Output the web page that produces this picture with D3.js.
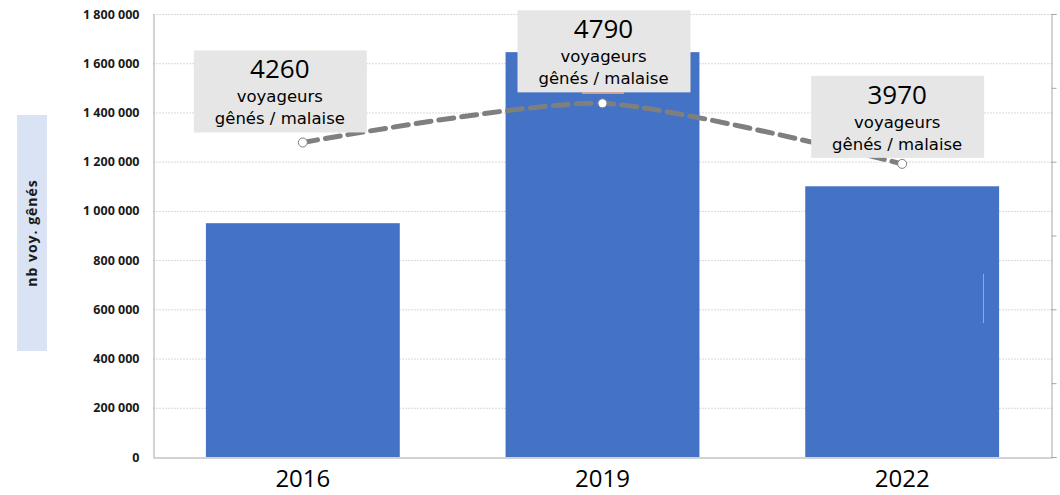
<!DOCTYPE html>
<html>
<head>
<meta charset="utf-8">
<script src="https://cdn.jsdelivr.net/npm/d3@7"></script>
<style>
body { margin:0; background:#fff; }
svg { display:block; }
</style>
</head>
<body>
<svg id="graph"></svg>
<script>
// data
var years = ["2016", "2019", "2022"]
var voyGenes = [950000, 1645000, 1100000]
var malaise = [4260, 4790, 3970]
var yTicks = [0, 200000, 400000, 600000, 800000, 1000000, 1200000, 1400000, 1600000, 1800000]
var y2Ticks = [0, 1000, 2000, 3000, 4000, 5000, 6000]
var labelLines = ["voyageurs", "gênés / malaise"]

var screen = {width:1060, height:495}
var margin = {left:153, right:8, top:14, bottom:38}

var svg = d3.select("#graph")
    .attr("width", screen.width)
    .attr("height", screen.height)

var fr = d3.formatLocale({decimal:",", thousands:" ", grouping:[3], currency:["","€"]})
var fmt = fr.format(",")

var xscale = d3.scaleBand()
    .domain(years)
    .range([margin.left, screen.width - margin.right])
    .paddingInner(0.353)
    .paddingOuter(0.1765)

var yscale = d3.scaleLinear()
    .domain([0, 1800000])
    .range([screen.height - margin.bottom, margin.top])

var y2scale = d3.scaleLinear()
    .domain([0, 6000])
    .range([screen.height - margin.bottom, margin.top])

var x0 = margin.left, x1 = screen.width - margin.right
var yBase = yscale(0)

// gridlines
svg.append("g")
    .selectAll("line")
    .data(yTicks.slice(1))
    .enter()
    .append("line")
    .attr("x1", x0).attr("x2", x1)
    .attr("y1", function(d){ return yscale(d) + 0.5 })
    .attr("y2", function(d){ return yscale(d) + 0.5 })
    .attr("stroke", "#d9d9d9")
    .attr("stroke-dasharray", "2,1")

// bars
svg.append("g")
    .selectAll("rect")
    .data(years)
    .enter()
    .append("rect")
    .attr("x", function(d){ return xscale(d) })
    .attr("width", xscale.bandwidth())
    .attr("y", function(d, i){ return yscale(voyGenes[i]) })
    .attr("height", function(d, i){ return yBase - yscale(voyGenes[i]) })
    .attr("fill", "#4472c4")

// faint line inside last bar
svg.append("line")
    .attr("x1", 983.5).attr("x2", 983.5)
    .attr("y1", 274).attr("y2", 323)
    .attr("stroke", "#8fa9dc").attr("stroke-width", 1)

// left y axis
var yAxis = d3.axisLeft(yscale)
    .tickValues(yTicks)
    .tickSize(0)
    .tickPadding(14)
    .tickFormat(fmt)
var gy = svg.append("g")
    .attr("transform", "translate(" + (x0 + 0.5) + ",0)")
    .call(yAxis)
gy.select(".domain").attr("stroke", "#a6a6a6")
gy.selectAll("text")
    .attr("font-family", "'Open Sans', sans-serif")
    .attr("font-weight", "bold")
    .attr("font-size", 12.5)
    .attr("fill", "#1a1a1a")

// right y axis (no labels)
var y2Axis = d3.axisRight(y2scale)
    .tickValues(y2Ticks)
    .tickSize(5)
    .tickFormat("")
var gy2 = svg.append("g")
    .attr("transform", "translate(" + (x1 - 0.5) + ",0)")
    .call(y2Axis)
gy2.select(".domain").attr("stroke", "#a6a6a6")
gy2.selectAll("line").attr("stroke", "#a6a6a6")

// x axis
var xAxis = d3.axisBottom(xscale).tickSize(0).tickPadding(12)
var gx = svg.append("g")
    .attr("transform", "translate(0," + (yBase + 0.5) + ")")
    .call(xAxis)
gx.select(".domain").attr("stroke", "#a6a6a6")
gx.selectAll("text")
    .attr("font-family", "'Open Sans', sans-serif")
    .attr("font-size", 24)
    .attr("fill", "#000")

// y axis title
svg.append("rect")
    .attr("x", 17).attr("y", 115)
    .attr("width", 30).attr("height", 236)
    .attr("fill", "#dae3f3")
svg.append("text")
    .attr("transform", "translate(37,233) rotate(-90)")
    .attr("text-anchor", "middle")
    .attr("font-family", "'Open Sans', sans-serif")
    .attr("font-weight", "bold")
    .attr("font-size", 14)
    .attr("letter-spacing", 1)
    .attr("fill", "#1a1a1a")
    .text("nb voy. gênés")

// line series
var cx = function(d){ return xscale(d) + xscale.bandwidth() / 2 }
var line = d3.line()
    .x(function(d, i){ return cx(years[i]) })
    .y(function(d){ return y2scale(d) })
    .curve(d3.curveCardinal.tension(0.3))

svg.append("path")
    .datum(malaise)
    .attr("d", line)
    .attr("fill", "none")
    .attr("stroke", "#7f7f7f")
    .attr("stroke-width", 5)
    .attr("stroke-dasharray", "15,8")
    .attr("stroke-linecap", "round")

svg.append("g")
    .selectAll("circle")
    .data(malaise)
    .enter()
    .append("circle")
    .attr("cx", function(d, i){ return cx(years[i]) })
    .attr("cy", function(d){ return y2scale(d) })
    .attr("r", 4.5)
    .attr("fill", "#fff")
    .attr("stroke", "#7f7f7f")
    .attr("stroke-width", 1)

// data labels
var dxs = [-23, 1, -5]
var dys = [-92, -93, -88]
var labels = svg.append("g")
    .selectAll("g")
    .data(malaise)
    .enter()
    .append("g")
    .attr("transform", function(d, i){
        return "translate(" + (cx(years[i]) + dxs[i]) + "," + (y2scale(d) + dys[i]) + ")"
    })

labels.append("rect")
    .attr("x", -86).attr("y", 0)
    .attr("width", 173).attr("height", 82)
    .attr("fill", "#e6e6e6")

labels.append("text")
    .attr("text-anchor", "middle")
    .attr("y", 28)
    .attr("font-family", "'Open Sans', sans-serif")
    .attr("font-size", 26)
    .attr("fill", "#000")
    .text(function(d){ return d })

labels.each(function(){
    var g = d3.select(this)
    labelLines.forEach(function(t, j){
        g.append("text")
            .attr("text-anchor", "middle")
            .attr("y", 52 + j * 22)
            .attr("font-family", "'DejaVu Sans', sans-serif")
            .attr("font-size", 16.5)
            .attr("fill", "#000")
            .text(t)
    })
})

// small peach leader under the middle label
svg.append("line")
    .attr("x1", 582).attr("x2", 624)
    .attr("y1", 93).attr("y2", 93)
    .attr("stroke", "#f4b183").attr("stroke-width", 1.5)
</script>
</body>
</html>
